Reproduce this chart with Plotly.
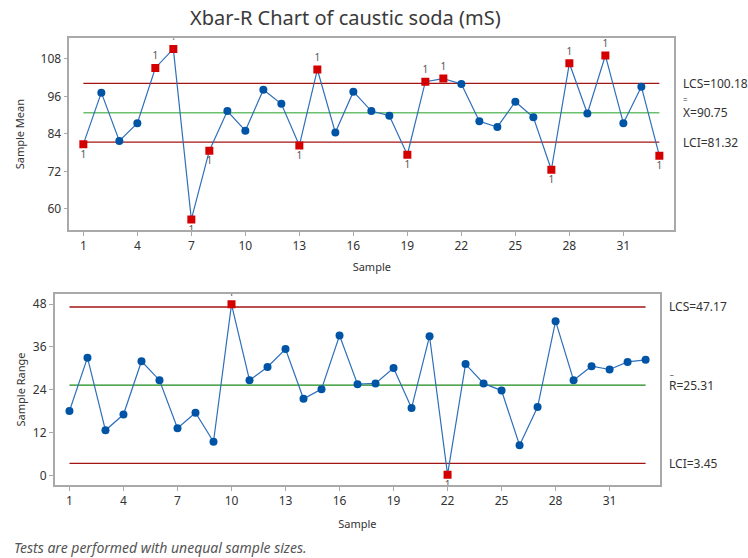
import plotly.graph_objects as go

# Sample numbers
samples = list(range(1, 34))

# Xbar chart: subgroup means and limits
sample_means = [80.7, 97.2, 81.7, 87.4, 105.1, 111.2, 56.6, 78.6, 91.3, 85.0,
                98.1, 93.6, 80.3, 104.6, 84.4, 97.5, 91.3, 89.8, 77.3, 100.7,
                101.7, 100.0, 88.0, 86.2, 94.3, 89.3, 72.5, 106.6, 90.5, 109.1,
                87.4, 99.1, 77.0]
xbar_ucl, xbar_cl, xbar_lcl = 100.18, 90.75, 81.32

# R chart: subgroup ranges and limits
sample_ranges = [18.1, 33.0, 12.7, 17.1, 32.0, 26.7, 13.3, 17.6, 9.5, 47.9,
                 26.7, 30.4, 35.4, 21.5, 24.2, 39.2, 25.6, 25.8, 30.1, 18.9,
                 39.0, 0.3, 31.2, 25.8, 23.8, 8.5, 19.2, 43.2, 26.7, 30.6,
                 29.7, 31.8, 32.4]
r_ucl, r_cl, r_lcl = 47.17, 25.31, 3.45

x_ticks = [1, 4, 7, 10, 13, 16, 19, 22, 25, 28, 31]
mean_ticks = [60, 72, 84, 96, 108]
range_ticks = [0, 12, 24, 36, 48]

W, H = 748, 558
FONT = "Noto Sans"
TXT = "#333333"
BLUE = "#0054a6"
LINE_BLUE = "#2f6fba"
RED = "#d40000"
LIMIT = "#a31515"


def px_x(p):
    return p / W


def px_y(p):
    return 1 - p / H


fig = go.Figure()


def add_chart(vals, ucl, cl, lcl, xa, ya, cl_color):
    first, last = samples[0], samples[-1]
    for lvl, col in ((ucl, LIMIT), (cl, cl_color), (lcl, LIMIT)):
        fig.add_trace(go.Scatter(x=[first, last], y=[lvl, lvl], mode="lines",
                                 line=dict(color=col, width=1.3),
                                 xaxis=xa, yaxis=ya, hoverinfo="skip"))
    fig.add_trace(go.Scatter(x=samples, y=vals, mode="lines",
                             line=dict(color=LINE_BLUE, width=1.2),
                             xaxis=xa, yaxis=ya))
    ok_x = [s for s, v in zip(samples, vals) if lcl <= v <= ucl]
    ok_y = [v for v in vals if lcl <= v <= ucl]
    fig.add_trace(go.Scatter(x=ok_x, y=ok_y, mode="markers",
                             marker=dict(color=BLUE, size=8, symbol="circle"),
                             xaxis=xa, yaxis=ya))
    bad = [(s, v) for s, v in zip(samples, vals) if v > ucl or v < lcl]
    fig.add_trace(go.Scatter(
        x=[s for s, _ in bad], y=[v for _, v in bad], mode="markers+text",
        marker=dict(color=RED, size=8, symbol="square"),
        text=["1"] * len(bad),
        textposition=["top center" if v > ucl else "bottom center" for _, v in bad],
        textfont=dict(family=FONT, size=10, color="#555555"),
        xaxis=xa, yaxis=ya))


add_chart(sample_means, xbar_ucl, xbar_cl, xbar_lcl, "x", "y", "#6cbf6c")
add_chart(sample_ranges, r_ucl, r_cl, r_lcl, "x2", "y2", "#1a8a1a")

axis_common = dict(showline=True, mirror=True, linecolor="#a9a9a9", linewidth=1.5,
                   showgrid=False, zeroline=False, ticks="outside", ticklen=4,
                   tickcolor="#a9a9a9", tickfont=dict(family=FONT, size=12, color=TXT))

fig.update_layout(
    width=W, height=H, margin=dict(l=0, r=0, t=0, b=0),
    paper_bgcolor="white", plot_bgcolor="white", showlegend=False,
    font=dict(family=FONT, color=TXT),
    xaxis=dict(domain=[px_x(69.3), px_x(674.3)], range=[0.22, 33.83],
               tickvals=x_ticks, anchor="y",
               title=dict(text="Sample", font=dict(size=11, color=TXT), standoff=10),
               **axis_common),
    yaxis=dict(domain=[px_y(230), px_y(38.3)], range=[53.2, 114.6],
               tickvals=mean_ticks, anchor="x",
               title=dict(text="Sample Mean", font=dict(size=11, color=TXT), standoff=14),
               **axis_common),
    xaxis2=dict(domain=[px_x(54.7), px_x(660)], range=[0.18, 33.8],
                tickvals=x_ticks, anchor="y2",
                title=dict(text="Sample", font=dict(size=11, color=TXT), standoff=12),
                **axis_common),
    yaxis2=dict(domain=[px_y(485), px_y(294)], range=[-2.6, 50.8],
                tickvals=range_ticks, anchor="x2",
                title=dict(text="Sample Range", font=dict(size=11, color=TXT), standoff=5),
                **axis_common),
)

ann = []
ann.append(dict(text="Xbar-R Chart of caustic soda (mS)", x=px_x(345), y=px_y(17),
                xref="paper", yref="paper", yanchor="middle", showarrow=False,
                font=dict(family=FONT, size=20, color="#3a3a3a")))
ann.append(dict(text="<i>Tests are performed with unequal sample sizes.</i>",
                x=px_x(12), y=px_y(547), xref="paper", yref="paper", xanchor="left",
                yanchor="middle", showarrow=False,
                font=dict(family=FONT, size=14, color="#555555")))

# limit labels to the right of each chart
lx1 = px_x(681)
for txt, yv in ((f"LCS={xbar_ucl:.2f}", xbar_ucl), (f"X={xbar_cl:.2f}", xbar_cl),
                (f"LCI={xbar_lcl:.2f}", xbar_lcl)):
    ann.append(dict(text=txt, x=lx1, y=yv, xref="paper", yref="y", xanchor="left",
                    yanchor="middle", showarrow=False,
                    font=dict(family=FONT, size=12, color=TXT)))
ann.append(dict(text="=", x=lx1, y=xbar_cl, xref="paper", yref="y", xanchor="left",
                yanchor="middle", yshift=13, showarrow=False,
                font=dict(family=FONT, size=8, color=TXT)))

lx2 = px_x(667)
for txt, yv in ((f"LCS={r_ucl:.2f}", r_ucl), (f"R={r_cl:.2f}", r_cl),
                (f"LCI={r_lcl:.2f}", r_lcl)):
    ann.append(dict(text=txt, x=lx2, y=yv, xref="paper", yref="y2", xanchor="left",
                    yanchor="middle", showarrow=False,
                    font=dict(family=FONT, size=12, color=TXT)))
ann.append(dict(text="_", x=lx2, y=r_cl, xref="paper", yref="y2", xanchor="left",
                yanchor="middle", yshift=15, showarrow=False,
                font=dict(family=FONT, size=8, color=TXT)))

fig.update_layout(annotations=ann)
fig.write_html("out.html")
